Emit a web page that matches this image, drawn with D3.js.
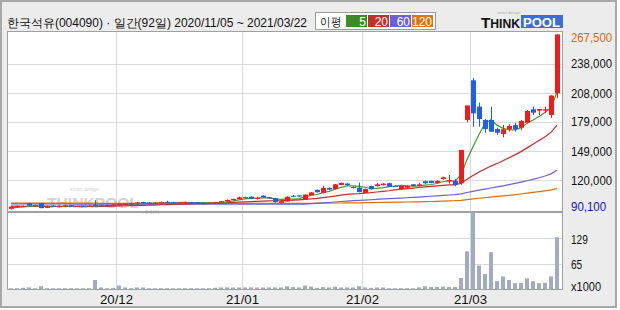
<!DOCTYPE html>
<html>
<head>
<meta charset="utf-8">
<title>한국석유 일간</title>
<script src="https://d3js.org/d3.v7.min.js"></script>
<style>
  body { margin: 0; background: #fff; }
  svg { display: block; }
  text { font-family: "Liberation Sans", Arial, sans-serif; }
</style>
</head>
<body>
<script>
var width = 620, height = 310;

// trading days 2020/11/05 ~ 2021/03/22 (92)
var dates = [
  '2020/11/05','2020/11/06','2020/11/09','2020/11/10','2020/11/11','2020/11/12','2020/11/13','2020/11/16','2020/11/17','2020/11/18',
  '2020/11/19','2020/11/20','2020/11/23','2020/11/24','2020/11/25','2020/11/26','2020/11/27','2020/11/30',
  '2020/12/01','2020/12/02','2020/12/03','2020/12/04','2020/12/07','2020/12/08','2020/12/09','2020/12/10','2020/12/11','2020/12/14',
  '2020/12/15','2020/12/16','2020/12/17','2020/12/18','2020/12/21','2020/12/22','2020/12/23','2020/12/24','2020/12/28','2020/12/29','2020/12/30',
  '2021/01/04','2021/01/05','2021/01/06','2021/01/07','2021/01/08','2021/01/11','2021/01/12','2021/01/13','2021/01/14','2021/01/15',
  '2021/01/18','2021/01/19','2021/01/20','2021/01/21','2021/01/22','2021/01/25','2021/01/26','2021/01/27','2021/01/28','2021/01/29',
  '2021/02/01','2021/02/02','2021/02/03','2021/02/04','2021/02/05','2021/02/08','2021/02/09','2021/02/10','2021/02/15','2021/02/16',
  '2021/02/17','2021/02/18','2021/02/19','2021/02/22','2021/02/23','2021/02/24','2021/02/25','2021/02/26',
  '2021/03/02','2021/03/03','2021/03/04','2021/03/05','2021/03/08','2021/03/09','2021/03/10','2021/03/11','2021/03/12',
  '2021/03/15','2021/03/16','2021/03/17','2021/03/18','2021/03/19','2021/03/22'
];

var opens = [
  90800, 92600, 93000, 96400, 93500, 96400, 91800, 94000, 92500, 93600,
  94400, 93000, 93800, 93000, 94800, 93500, 93800, 94200, 94500, 95200,
  95500, 96000, 97600, 97200, 95800, 96600, 97800, 97500, 96800, 97000,
  97600, 97300, 97000, 96400, 96800, 97300, 98200, 99500, 100600, 102000,
  103100, 100800, 104100, 102500, 101500, 96800, 98200, 104000, 104400, 100200,
  104600, 110000, 107000, 112000, 110800, 115000, 116400, 111800, 112200, 106900,
  113900, 113800, 114800, 116700, 114000, 110600, 112200, 115600, 113900, 118700,
  119000, 117000, 121000, 119400, 119300, 116700, 180800, 221000, 194300, 180800,
  180800, 171700, 166600, 171400, 175700, 173000, 178000, 191600, 190200, 190200,
  185800, 207800
];
var highs = [
  93500, 94000, 94200, 97000, 95000, 96800, 94000, 94500, 94200, 94800,
  94800, 94000, 94200, 94300, 99500, 94600, 95000, 95500, 96000, 96500,
  97000, 97600, 98000, 97600, 97300, 98000, 99000, 97900, 97800, 98000,
  97900, 97600, 97300, 97300, 97900, 98800, 100200, 101200, 103300, 103000,
  103500, 103000, 104500, 102900, 101800, 99000, 103500, 105000, 104800, 105600,
  107800, 110400, 114000, 112500, 116000, 117400, 116800, 113400, 117300, 111300,
  114300, 117000, 116700, 117200, 114600, 114300, 114300, 116000, 117200, 119600,
  119400, 120000, 123500, 125000, 121000, 150500, 195500, 223500, 198300, 181800,
  194300, 173000, 175700, 176500, 178000, 180800, 190800, 194300, 191900, 194300,
  206100, 267500
];
var lows = [
  90100, 92000, 92600, 93700, 93000, 91300, 91500, 92500, 92200, 93200,
  92900, 92500, 92800, 92800, 92500, 93000, 93300, 93800, 94200, 94800,
  95200, 95800, 96000, 95600, 95500, 96300, 96500, 96500, 96500, 96700,
  96600, 96300, 96100, 96100, 96500, 97000, 98000, 99200, 100200, 101000,
  100500, 100200, 102000, 101000, 97200, 96400, 98000, 102600, 102800, 99800,
  104200, 107200, 106500, 109800, 110500, 114600, 114200, 111500, 107500, 106500,
  110200, 113400, 114400, 113000, 112800, 110200, 111800, 113500, 113400, 116000,
  116600, 116500, 120300, 116300, 113700, 115000, 178500, 174000, 174000, 168000,
  168900, 165600, 163300, 169000, 169000, 170500, 177500, 185800, 185800, 187900,
  183000, 202800
];
var closes = [
  93000, 93500, 93700, 94000, 94500, 91500, 93500, 92800, 93800, 94300,
  93200, 93600, 93100, 93900, 93900, 94200, 94500, 95000, 95600, 96000,
  96400, 97200, 96400, 96000, 97000, 97600, 96800, 96900, 97400, 97500,
  96900, 96600, 96500, 97000, 97600, 98500, 99800, 100800, 102400, 102600,
  100900, 101800, 102500, 101400, 97500, 98500, 103000, 103000, 103200, 105200,
  107400, 107600, 112000, 110300, 115600, 117000, 114600, 113000, 107800, 110900,
  110600, 115600, 116300, 113300, 113200, 113900, 113900, 113900, 115600, 116700,
  117000, 119000, 122700, 120000, 115000, 150400, 195500, 187500, 181800, 171700,
  168900, 167900, 171400, 174700, 171400, 179800, 189900, 188200, 191900, 191600,
  205500, 267500
];
// volume, x1000 shares
var volumes = [
  2, 2, 3, 4, 2, 7, 2, 2, 2, 2,
  2, 2, 2, 2, 23, 4, 2, 3, 9, 4,
  2, 4, 4, 2, 2, 2, 2, 2, 2, 2,
  2, 2, 2, 2, 3, 4, 4, 4, 4, 4,
  4, 4, 4, 4, 4, 4, 7, 5, 4, 9,
  6, 3, 5, 4, 6, 4, 4, 4, 7, 4,
  3, 4, 4, 2, 2, 2, 2, 2, 4, 7,
  5, 5, 6, 5, 5, 28, 96, 194, 60, 38,
  94, 20, 32, 23, 15, 15, 27, 20, 15, 16,
  32, 132
];
// closes before 2020/11/05, for the 5/20 day averages
var priorCloses = [
  94800, 94500, 94900, 94300, 94100, 93800, 94200, 93900, 93600, 93800,
  93500, 94000, 93700, 93400, 93500, 92200, 91500, 91300, 92000
];
var ma60 = [
  95900, 95900, 95900, 95800, 95800, 95800, 95800, 95700, 95700, 95700,
  95700, 95600, 95600, 95600, 95600, 95500, 95500, 95500, 95500, 95500,
  95400, 95400, 95400, 95400, 95400, 95400, 95400, 95400, 95400, 95400,
  95400, 95400, 95400, 95400, 95400, 95400, 95400, 95400, 95400, 95400,
  95400, 95400, 95400, 95400, 95400, 95500, 95500, 95500, 95500, 95600,
  96000, 96400, 96800, 97200, 97700, 98200, 98600, 99000, 99300, 99600,
  100000, 100400, 100800, 101100, 101400, 101700, 102000, 102300, 102700, 103100,
  103500, 103900, 104400, 104800, 105200, 106000, 107300, 108500, 109700, 110800,
  111900, 113000, 114100, 115300, 116500, 117800, 119200, 120700, 122300, 124000,
  126200, 129800
];
var ma120 = [
  96500, 96500, 96500, 96500, 96500, 96500, 96500, 96500, 96500, 96500,
  96500, 96500, 96500, 96500, 96500, 96400, 96400, 96400, 96400, 96400,
  96400, 96400, 96400, 96400, 96400, 96400, 96400, 96400, 96400, 96400,
  96400, 96400, 96400, 96400, 96400, 96400, 96400, 96400, 96400, 96400,
  96400, 96400, 96400, 96400, 96400, 96400, 96400, 96400, 96400, 96400,
  96400, 96500, 96500, 96600, 96700, 96700, 96800, 96900, 96900, 97000,
  97100, 97200, 97300, 97400, 97500, 97600, 97700, 97800, 97900, 98000,
  98200, 98400, 98600, 98800, 99000, 99400, 100200, 100900, 101500, 102100,
  102700, 103300, 103900, 104500, 105100, 105800, 106600, 107400, 108200, 109000,
  109900, 111300
];

var priceTicks = [238000, 208000, 179000, 149000, 120000];
var priceMax = 267500, priceMin = 90100;
var volumeTicks = [65, 129];
var volumeMax = 194;
var monthStarts = ['2020/12/01', '2021/01/04', '2021/02/01', '2021/03/02'];
var monthLabels = ['20/12', '21/01', '21/02', '21/03'];
var maPeriods = [5, 20, 60, 120];
var maColors = ['#3f9a2f', '#c62a2a', '#6b5fe0', '#e07000'];
var legendColors = ['#3c8c28', '#c1302b', '#6a5fd8', '#dd7311'];

var upColor = '#f21b1b', downColor = '#1f5fe2', volColor = '#a3abc3';
var gridColor = '#d9d9d9', frameColor = '#a0a0a0';

var svg = d3.select('body').append('svg')
  .attr('width', width)
  .attr('height', height);

// outer background and frame
svg.append('rect')
  .attr('x', 1).attr('y', 1)
  .attr('width', 615).attr('height', 306)
  .attr('fill', '#ececec')
  .attr('stroke', '#a8a8a8')
  .attr('stroke-width', 2);

var left = 7.5, right = 562.5;
var priceTop = 31.5, priceBottom = 212, volBottom = 289;

var x = d3.scaleBand().domain(dates).range([8, 560]).padding(0);
var y = d3.scaleLinear().domain([priceMin, priceMax]).range([209.5, 34.4]);
var yv = d3.scaleLinear().domain([0, volumeMax]).range([volBottom, 213]);

// panels
svg.append('rect')
  .attr('x', left).attr('y', priceTop)
  .attr('width', right - left).attr('height', volBottom + 0.5 - priceTop)
  .attr('fill', '#fff');

var grid = svg.append('g').attr('stroke', gridColor).attr('stroke-width', 1);
grid.selectAll('.hp')
  .data(priceTicks)
  .enter().append('line')
  .attr('x1', left).attr('x2', right)
  .attr('y1', d => Math.round(y(d)) + 0.5)
  .attr('y2', d => Math.round(y(d)) + 0.5);
grid.selectAll('.hv')
  .data(volumeTicks)
  .enter().append('line')
  .attr('x1', left).attr('x2', right)
  .attr('y1', d => Math.round(yv(d)) + 0.5)
  .attr('y2', d => Math.round(yv(d)) + 0.5);
grid.selectAll('.vx')
  .data(monthStarts)
  .enter().append('line')
  .attr('x1', d => x(d) + 0.5).attr('x2', d => x(d) + 0.5)
  .attr('y1', priceTop).attr('y2', volBottom);

// watermark
var wm = svg.append('g').attr('fill', '#c4c4c4').attr('opacity', 0.75);
wm.append('text')
  .attr('x', 47).attr('y', 208)
  .attr('font-size', 15.5).attr('font-weight', 'bold')
  .attr('textLength', 92).attr('lengthAdjust', 'spacingAndGlyphs')
  .text('THINKPOOL');
wm.append('text')
  .attr('x', 142).attr('y', 214)
  .attr('font-size', 8)
  .text('.com');
wm.append('text')
  .attr('x', 70).attr('y', 191)
  .attr('font-size', 5)
  .text('smart design');

// moving averages
var allCloses = priorCloses.concat(closes);
var P = priorCloses.length;
function movingAvg(n) {
  return closes.map((c, i) => d3.mean(allCloses.slice(i + P - n + 1, i + P + 1)));
}
var maSeries = [movingAvg(5), movingAvg(20), ma60, ma120];

var line = d3.line()
  .x((d, i) => x(dates[i]) + 3)
  .y(d => y(d));

svg.append('g').selectAll('path')
  .data(maSeries.slice().reverse())
  .enter().append('path')
  .attr('d', line)
  .attr('fill', 'none')
  .attr('stroke', (d, i) => maColors[maColors.length - 1 - i])
  .attr('stroke-width', 1.2);

// candles
var idx = d3.range(dates.length);
var candles = svg.append('g');
candles.selectAll('line')
  .data(idx)
  .enter().append('line')
  .attr('x1', i => x(dates[i]) + 3.5)
  .attr('x2', i => x(dates[i]) + 3.5)
  .attr('y1', i => y(highs[i]))
  .attr('y2', i => y(lows[i]))
  .attr('stroke', i => closes[i] >= opens[i] ? upColor : downColor)
  .attr('stroke-width', 1);
candles.selectAll('rect')
  .data(idx)
  .enter().append('rect')
  .attr('x', i => x(dates[i]) + 1)
  .attr('width', 5)
  .attr('y', i => y(Math.max(opens[i], closes[i])))
  .attr('height', i => Math.max(1, Math.abs(y(opens[i]) - y(closes[i]))))
  .attr('fill', i => closes[i] >= opens[i] ? upColor : downColor);

// volume bars
svg.append('g').selectAll('rect')
  .data(idx)
  .enter().append('rect')
  .attr('x', i => x(dates[i]) + 1)
  .attr('width', 4)
  .attr('y', i => yv(volumes[i]))
  .attr('height', i => volBottom - yv(volumes[i]))
  .attr('fill', volColor);

// frames
svg.append('rect')
  .attr('x', left).attr('y', priceTop)
  .attr('width', right - left).attr('height', volBottom + 0.5 - priceTop)
  .attr('fill', 'none')
  .attr('stroke', frameColor);
svg.append('line')
  .attr('x1', left).attr('x2', right)
  .attr('y1', priceBottom).attr('y2', priceBottom)
  .attr('stroke', frameColor)
  .attr('stroke-width', 2);

// right price labels
var fmt = d3.format(',');
var labelX = 571;
function label(t, cy, color, charW) {
  svg.append('text')
    .attr('x', labelX).attr('y', cy + 4.6)
    .attr('font-size', 13)
    .attr('fill', color)
    .attr('textLength', t.length * charW)
    .attr('lengthAdjust', 'spacingAndGlyphs')
    .text(t);
}
priceTicks.forEach(p => label(fmt(p), y(p), '#111', 5.86));
label(fmt(priceMax), 37.5, '#d06a10', 5.86);
label(fmt(priceMin), 206, '#1010c8', 5.86);
volumeTicks.forEach(v => label(String(v), yv(v) + 0.5, '#111', 5.6));
label('x1000', 286, '#111', 6);

// month labels
svg.append('g').selectAll('text')
  .data(monthStarts)
  .enter().append('text')
  .attr('x', d => x(d) + 0.5)
  .attr('y', 303.5)
  .attr('text-anchor', 'middle')
  .attr('font-size', 13)
  .attr('fill', '#111')
  .attr('textLength', 33)
  .attr('lengthAdjust', 'spacingAndGlyphs')
  .text((d, i) => monthLabels[i]);

// title
svg.append('text')
  .attr('x', 7).attr('y', 27)
  .attr('font-family', '"Noto Sans CJK KR", sans-serif')
  .attr('font-size', 12)
  .attr('fill', '#111')
  .attr('textLength', 300)
  .attr('lengthAdjust', 'spacingAndGlyphs')
  .text('한국석유(004090) · 일간(92일) 2020/11/05 ~ 2021/03/22');

// legend
var lg = svg.append('g');
lg.append('rect')
  .attr('x', 315.5).attr('y', 12.5)
  .attr('width', 120).attr('height', 17)
  .attr('fill', '#fff')
  .attr('stroke', '#999');
lg.append('text')
  .attr('x', 320).attr('y', 26)
  .attr('font-family', '"Noto Sans CJK KR", sans-serif')
  .attr('font-size', 12)
  .attr('fill', '#111')
  .attr('textLength', 21)
  .attr('lengthAdjust', 'spacingAndGlyphs')
  .text('이평');
var boxX = [346, 368, 390, 412];
lg.selectAll('.box')
  .data(maPeriods)
  .enter().append('rect')
  .attr('x', (d, i) => boxX[i]).attr('y', 15)
  .attr('width', 21).attr('height', 12)
  .attr('fill', (d, i) => legendColors[i]);
lg.selectAll('.num')
  .data(maPeriods)
  .enter().append('text')
  .attr('x', (d, i) => boxX[i] + 20).attr('y', 25.5)
  .attr('text-anchor', 'end')
  .attr('font-size', 12)
  .attr('fill', '#fff')
  .text(d => d);

// logo
var logo = svg.append('g');
logo.append('rect')
  .attr('x', 521).attr('y', 15)
  .attr('width', 42).attr('height', 13)
  .attr('fill', '#3b6fd6');
var think = logo.append('text')
  .attr('x', 481).attr('y', 27.5)
  .attr('font-weight', 'bold')
  .attr('fill', '#111')
  .attr('textLength', 39)
  .attr('lengthAdjust', 'spacingAndGlyphs');
think.append('tspan').attr('font-size', 15).text('T');
think.append('tspan').attr('font-size', 12).text('HINK');
logo.append('text')
  .attr('x', 523).attr('y', 27)
  .attr('font-weight', 'bold')
  .attr('font-size', 12.5)
  .attr('fill', '#fff')
  .attr('textLength', 37)
  .attr('lengthAdjust', 'spacingAndGlyphs')
  .text('POOL');
logo.append('text')
  .attr('x', 497).attr('y', 14)
  .attr('font-size', 4)
  .attr('fill', '#aaa')
  .text('smart design');
</script>
</body>
</html>
